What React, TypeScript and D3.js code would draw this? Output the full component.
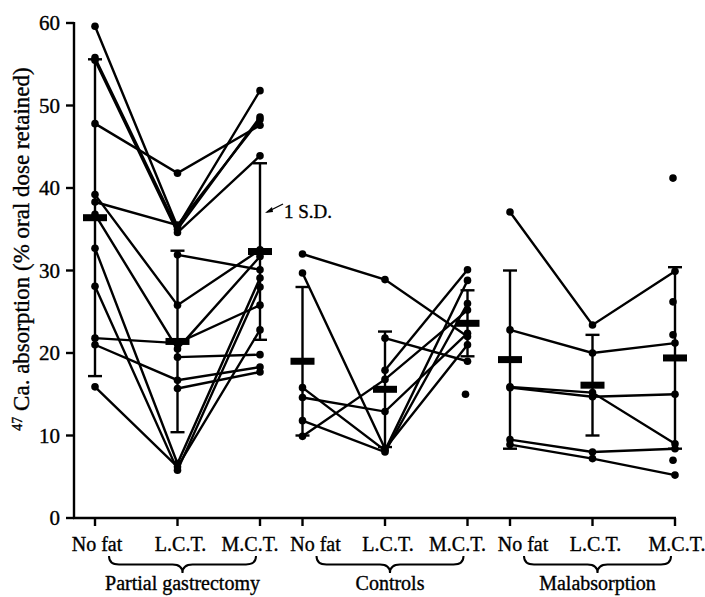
import React from "react";
import * as d3 from "d3";

const categories = ["No fat", "L.C.T.", "M.C.T."];
const groups = ["Partial gastrectomy", "Controls", "Malabsorption"];
const yTicks = [0, 10, 20, 30, 40, 50, 60];

// each subject: [No fat, L.C.T., M.C.T.] (null = not measured)
const gastrectomySubjects: (number | null)[][] = [
  [59.6, 35.3, 51.8],
  [55.8, 35.0, 48.6],
  [55.5, 34.6, 43.9],
  [47.8, 41.8, 47.6],
  [38.3, 35.5, 48.3],
  [39.2, 25.8, 32.5],
  [null, 31.9, 30.1],
  [36.8, 20.5, 31.7],
  [32.7, 6.6, 29.1],
  [28.1, 5.8, 28.0],
  [21.8, 21.2, 25.8],
  [21.0, 16.7, 18.3],
  [15.9, 6.2, 22.8],
  [null, 19.5, 19.8],
  [null, 15.7, 17.7],
];
const controlsSubjects: (number | null)[][] = [
  [32.0, 28.9, 22.0],
  [29.7, 8.4, 21.0],
  [null, 21.8, 19.0],
  [15.8, 8.2, 28.8],
  [14.6, 12.9, 22.4],
  [11.8, 8.0, 26.0],
  [9.9, 16.8, 25.2],
  [null, 17.9, 30.1],
];
const malabsorptionSubjects: (number | null)[][] = [
  [37.1, 23.4, 29.9],
  [22.8, 20.0, 21.2],
  [15.8, 14.7, 15.0],
  [15.9, 15.2, 9.0],
  [9.5, 8.0, 8.4],
  [8.9, 7.2, 5.2],
];
const controlsExtraPoints: [number, number][] = [[2, 15.0]];
const malabsorptionExtraPoints: [number, number][] = [
  [2, 41.2],
  [2, 26.2],
  [2, 22.2],
  [2, 7.0],
];

const gastrectomyMeans = [36.4, 21.4, 32.3];
const gastrectomySD = [19.2, 11.0, 10.7];
const controlsMeans = [19.0, 15.6, 23.6];
const controlsSD = [9.0, 7.0, 4.0];
const malabsorptionMeans = [19.2, 16.1, 19.4];
const malabsorptionSD = [10.8, 6.1, 11.0];

const W = 705;
const H = 597;
const FONT = "'Liberation Serif', 'Times New Roman', serif";
const TXT = { fill: "#000", stroke: "#000", strokeWidth: 0.35 };

export default function App() {
  const y = d3.scaleLinear().domain([0, 60]).range([518, 23]);
  const gx = d3.scalePoint<string>().domain(groups).range([95, 510]);
  const cx = d3.scalePoint<string>().domain(categories).range([0, 165]);
  const X = (g: number, c: number) => (gx(groups[g]) as number) + (cx(categories[c]) as number);

  const groupData = [
    { subjects: gastrectomySubjects, extra: [] as [number, number][], means: gastrectomyMeans, sd: gastrectomySD },
    { subjects: controlsSubjects, extra: controlsExtraPoints, means: controlsMeans, sd: controlsSD },
    { subjects: malabsorptionSubjects, extra: malabsorptionExtraPoints, means: malabsorptionMeans, sd: malabsorptionSD },
  ];

  const axisLeft = 74;
  const axisRight = X(2, 2) + 1;
  const y0 = y(0);

  // label shift so neighbouring group labels do not collide
  const labelDx = (gi: number, ci: number) => (ci === 0 && gi > 0 ? 13 : ci === 2 && gi < 2 ? -10 : ci === 1 ? 3 : 2);

  const bracePath = (x1: number, x2: number, top: number, h: number) => {
    const xm = (x1 + x2) / 2;
    const r = 10;
    const mid = top + h / 2;
    return `M${x1},${top} Q${x1},${mid} ${x1 + r},${mid} L${xm - r},${mid} Q${xm},${mid} ${xm},${top + h} Q${xm},${mid} ${xm + r},${mid} L${x2 - r},${mid} Q${x2},${mid} ${x2},${top}`;
  };

  const lineGen = d3
    .line<[number, number | null]>()
    .defined((d) => d[1] !== null)
    .x((d) => d[0])
    .y((d) => y(d[1] as number));

  return (
    <svg width={W} height={H} style={{ position: "absolute", left: 0, top: 0, background: "#fff" }} fontFamily={FONT}>
      <rect x={0} y={0} width={W} height={H} fill="#fff" />
      {/* axes */}
      <line x1={axisLeft} y1={y(60) - 1} x2={axisLeft} y2={y0} stroke="#000" strokeWidth={2.4} />
      <line x1={axisLeft - 1} y1={y0} x2={axisRight} y2={y0} stroke="#000" strokeWidth={2.4} />
      {yTicks.map((t) => (
        <g key={t}>
          <line x1={axisLeft - 8} x2={axisLeft} y1={y(t)} y2={y(t)} stroke="#000" strokeWidth={2.4} />
          <text x={axisLeft - 14} y={y(t) + 7} textAnchor="end" fontSize={21} {...TXT}>
            {t}
          </text>
        </g>
      ))}
      {groups.map((g, gi) =>
        categories.map((c, ci) => (
          <g key={g + c}>
            <line x1={X(gi, ci)} x2={X(gi, ci)} y1={y0} y2={y0 + 8} stroke="#000" strokeWidth={2.4} />
            <text x={X(gi, ci) + labelDx(gi, ci)} y={y0 + 33} textAnchor="middle" fontSize={20} {...TXT}>
              {c}
            </text>
          </g>
        ))
      )}
      {groups.map((g, gi) => (
        <g key={g}>
          <path d={bracePath(X(gi, 0) + 14, X(gi, 2) - 4, 556, 17)} fill="none" stroke="#000" strokeWidth={2} />
          <text x={(X(gi, 0) + 14 + X(gi, 2) - 4) / 2} y={590} textAnchor="middle" fontSize={20} {...TXT}>
            {g}
          </text>
        </g>
      ))}
      {/* y axis title */}
      <text transform={`translate(29,${249}) rotate(-90)`} textAnchor="middle" fontSize={23} {...TXT}>
        <tspan fontSize={14} dy={-7}>47</tspan>
        <tspan dy={7}> Ca. absorption (% oral dose retained)</tspan>
      </text>

      {/* data */}
      {groupData.map((gd, gi) => (
        <g key={gi}>
          {gd.subjects.map((s, si) => (
            <path
              key={si}
              d={lineGen(s.map((v, ci) => [X(gi, ci), v] as [number, number | null])) || ""}
              fill="none"
              stroke="#000"
              strokeWidth={2.4}
            />
          ))}
          {gd.means.map((m, ci) => {
            const x = X(gi, ci);
            const hi = y(m + gd.sd[ci]);
            const lo = y(m - gd.sd[ci]);
            return (
              <g key={ci}>
                <line x1={x} x2={x} y1={hi} y2={lo} stroke="#000" strokeWidth={2.4} />
                <line x1={x - 7} x2={x + 7} y1={hi} y2={hi} stroke="#000" strokeWidth={2.4} />
                <line x1={x - 7} x2={x + 7} y1={lo} y2={lo} stroke="#000" strokeWidth={2.4} />
                <rect x={x - 12} y={y(m) - 3.5} width={24} height={7} fill="#000" />
              </g>
            );
          })}
          {gd.subjects.map((s, si) =>
            s.map((v, ci) =>
              v === null ? null : <circle key={si + "-" + ci} cx={X(gi, ci)} cy={y(v)} r={3.8} fill="#000" />
            )
          )}
          {gd.extra.map(([ci, v], k) => (
            <circle key={"e" + k} cx={X(gi, ci) - 2} cy={y(v)} r={3.8} fill="#000" />
          ))}
        </g>
      ))}

      {/* 1 S.D. annotation */}
      <line x1={283} y1={204} x2={267} y2={212} stroke="#000" strokeWidth={1.3} />
      <path d="M265,213 L272,207 L273,212 Z" fill="#000" />
      <text x={284} y={218} fontSize={19} {...TXT}>
        1 S.D.
      </text>
    </svg>
  );
}
